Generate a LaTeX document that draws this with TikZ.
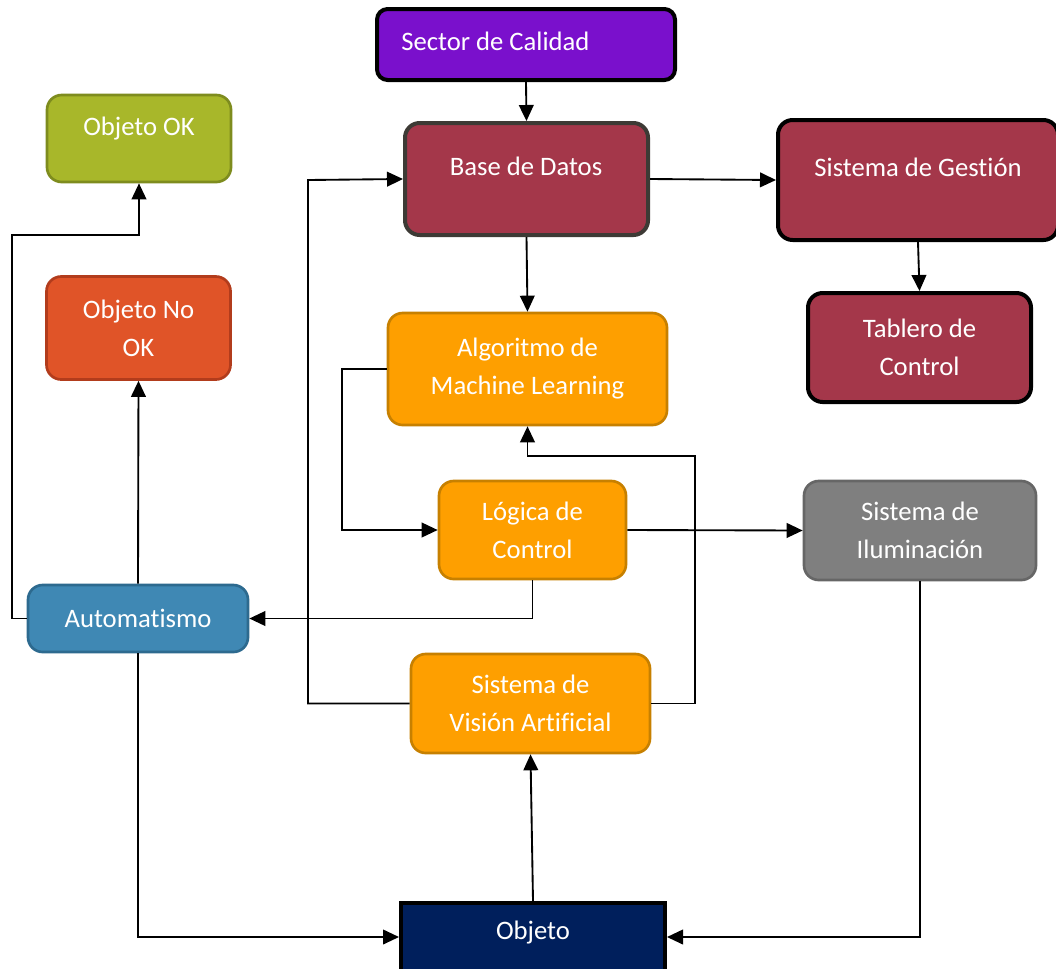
\documentclass[tikz,border=0pt]{standalone}
\usepackage{fontspec}
\setmainfont{Carlito}[Ligatures=NoCommon]
\usetikzlibrary{arrows.meta}
\definecolor{cPurple}{HTML}{7A10CC}
\definecolor{cWine}{HTML}{A4374A}
\definecolor{cWineEdge}{HTML}{3D3A35}
\definecolor{cOrange}{HTML}{FE9F00}
\definecolor{cOrangeEdge}{HTML}{C78000}
\definecolor{cGray}{HTML}{7F7F7F}
\definecolor{cGrayEdge}{HTML}{666666}
\definecolor{cBlue}{HTML}{3F88B4}
\definecolor{cBlueEdge}{HTML}{2D6A8F}
\definecolor{cGreen}{HTML}{A8B72A}
\definecolor{cGreenEdge}{HTML}{7E8C1E}
\definecolor{cRed}{HTML}{E05428}
\definecolor{cRedEdge}{HTML}{B23C1C}
\definecolor{cNavy}{HTML}{001F5C}
\tikzset{
  box/.style={rectangle, rounded corners=11pt, inner sep=0pt, line width=2pt,
    text=white, align=center, font=\fontsize{20}{28.5}\selectfont},
  lbl/.style={inner sep=0pt, text=white, align=center, font=\fontsize{20}{28.5}\selectfont},
  conn/.style={line width=1.4pt, -{Triangle[length=12pt, width=11pt]}},
}
\begin{document}
\begin{tikzpicture}[x=0.75pt, y=-0.75pt]
\useasboundingbox (0,0) rectangle (1056,968);

% boxes
\node[box, rounded corners=8pt, line width=3pt, fill=cPurple, draw=black,
  minimum width=223.5pt, minimum height=53.25pt] (sec) at (526,44.5) {};
\node[lbl, anchor=west] (sect) at (401,41) {Sector de Calidad};

\node[box, line width=3pt, fill=cWine, draw=cWineEdge,
  minimum width=182.25pt, minimum height=84pt] (base) at (526.5,179) {};
\node[lbl] (baset) at (526,166) {Base de Datos};

\node[box, line width=3pt, fill=cWine, draw=black,
  minimum width=210pt, minimum height=90pt] (ges) at (918,180) {};
\node[lbl] (gest) at (918,167) {Sistema de Gestión};

\node[box, line width=3pt, fill=cWine, draw=black,
  minimum width=167.25pt, minimum height=81.75pt] (tab) at (919.5,347.5) {Tablero de\\Control};

\node[box, fill=cGreen, draw=cGreenEdge,
  minimum width=138pt, minimum height=65.25pt] (ok) at (139,138.5) {};
\node[lbl] (okt) at (139,129) {Objeto OK};

\node[box, fill=cRed, draw=cRedEdge,
  minimum width=138pt, minimum height=77.25pt] (nok) at (138.5,328) {Objeto No\\OK};

\node[box, fill=cOrange, draw=cOrangeEdge,
  minimum width=209.25pt, minimum height=84pt] (alg) at (527.5,369) {Algoritmo de\\Machine Learning};

\node[box, fill=cOrange, draw=cOrangeEdge,
  minimum width=140.25pt, minimum height=73.5pt] (log) at (532.5,530) {Lógica de\\Control};

\node[box, fill=cGray, draw=cGrayEdge,
  minimum width=174pt, minimum height=74.25pt] (ilu) at (920,530.5) {Sistema de\\Iluminación};

\node[box, fill=cBlue, draw=cBlueEdge,
  minimum width=165pt, minimum height=50.25pt] (auto) at (138,618.5) {Automatismo};

\node[box, fill=cOrange, draw=cOrangeEdge,
  minimum width=179.25pt, minimum height=74.25pt] (vis) at (530.5,703.5) {Sistema de\\Visión Artificial};

\node[box, rounded corners=0pt, line width=3pt, fill=cNavy, draw=black,
  minimum width=198pt, minimum height=51pt] (obj) at (533,937) {};
\node[lbl] (objt) at (533,933) {Objeto};

% bend points
\coordinate (kOk) at (12,235);
\coordinate (kAlg) at (695,456);
\coordinate (kBase) at (308,180);

% connectors
\draw[conn] (sec.south) -- (base.north);
\draw[conn] (base.east) -- (ges.west);
\draw[conn] (base.south) -- (alg.north);
\draw[conn] (ges.south) -- (tab.north);
\draw[conn] (alg.west) -- ++(-45,0) |- (log.west);
\draw[conn] (log.east) -- (ilu.west);
\draw[conn] (log.south) |- (auto.east);
\draw[conn] (auto.west) -| (kOk) -| (ok.south);
\draw[conn] (auto.north) -- (nok.south);
\draw[conn] (auto.south) |- (obj.west);
\draw[conn] (ilu.south) |- (obj.east);
\draw[conn] (obj.north) -- (vis.south);
\draw[conn] (vis.east) -| (kAlg) -| (alg.south);
\draw[conn] (vis.west) -| (kBase) -- (base.west);
\end{tikzpicture}
\end{document}
